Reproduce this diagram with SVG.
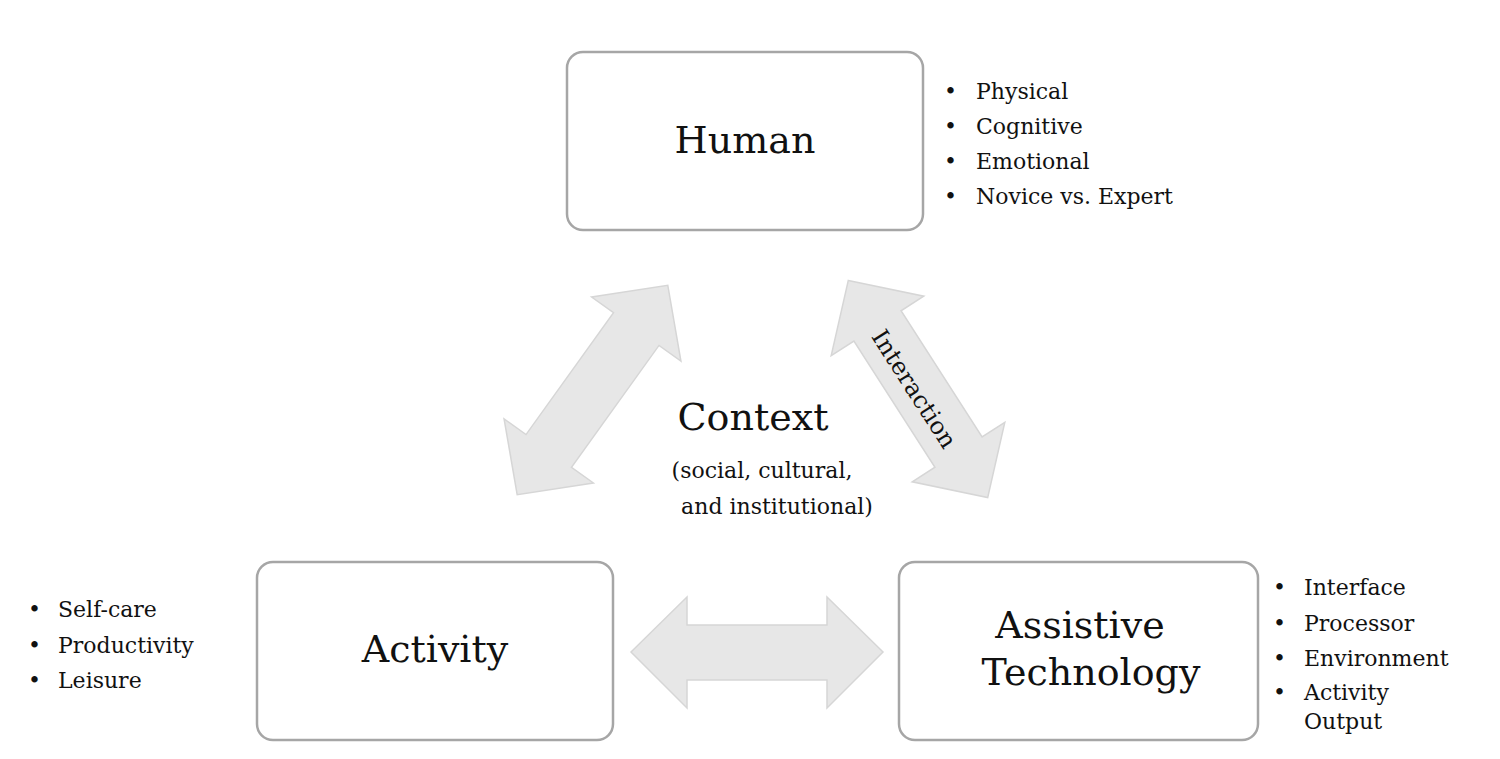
<svg xmlns="http://www.w3.org/2000/svg" width="1500" height="759" viewBox="0 0 1500 759">
<style>
.box{fill:#fff;stroke:#a6a6a6;stroke-width:2.5}
.arr{fill:#e7e7e7;stroke:#d6d6d6;stroke-width:1.5}
text{font-family:"DejaVu Serif","Liberation Serif",serif;fill:#111}
.big{font-size:38px;text-anchor:middle}
.sm{font-size:22px}
.mid{font-size:22px;text-anchor:middle}
</style>
<defs>
<path id="da" d="M-129,0 L-75,-55 L-75,-28 L75,-28 L75,-55 L129,0 L75,55 L75,28 L-75,28 L-75,55 Z"/>
</defs>
<rect width="1500" height="759" fill="#fff"/>
<g id="connectors">
<use href="#da" class="arr" transform="translate(592.5,390) rotate(-54.3)"/>
<use href="#da" class="arr" transform="translate(918,389) rotate(57.3)"/>
<path class="arr" d="M631,652 L687,597 L687,625 L827,625 L827,597 L883,652 L827,708 L827,680 L687,680 L687,708 Z"/>
<text class="mid" style="font-size:24px" transform="translate(914,389) rotate(57.3)" dy="8">Interaction</text>
</g>
<g id="human"><rect class="box" x="567" y="52" width="356" height="178" rx="16"/><text class="big" x="745" y="153">Human</text></g>
<g id="activity"><rect class="box" x="257" y="562" width="356" height="178" rx="16"/><text class="big" x="435" y="662">Activity</text></g>
<g id="at"><rect class="box" x="899" y="562" width="359" height="178" rx="16"/><text class="big" x="1080" y="638">Assistive</text><text class="big" x="1091" y="685">Technology</text></g>
<g id="context"><text class="big" x="753" y="430">Context</text><text class="mid" x="762" y="478">(social, cultural,</text><text class="mid" x="777" y="514">and institutional)</text></g>
<g id="human-list" class="sm">
<text x="944" y="99">•</text><text x="976" y="99">Physical</text>
<text x="944" y="134">•</text><text x="976" y="134">Cognitive</text>
<text x="944" y="169">•</text><text x="976" y="169">Emotional</text>
<text x="944" y="204">•</text><text x="976" y="204">Novice vs. Expert</text>
</g>
<g id="activity-list" class="sm">
<text x="28" y="617">•</text><text x="58" y="617">Self-care</text>
<text x="28" y="653">•</text><text x="58" y="653">Productivity</text>
<text x="28" y="688">•</text><text x="58" y="688">Leisure</text>
</g>
<g id="at-list" class="sm">
<text x="1273" y="595">•</text><text x="1304" y="595">Interface</text>
<text x="1273" y="631">•</text><text x="1304" y="631">Processor</text>
<text x="1273" y="666">•</text><text x="1304" y="666">Environment</text>
<text x="1273" y="700">•</text><text x="1304" y="700">Activity</text>
<text x="1304" y="729">Output</text>
</g>
</svg>
